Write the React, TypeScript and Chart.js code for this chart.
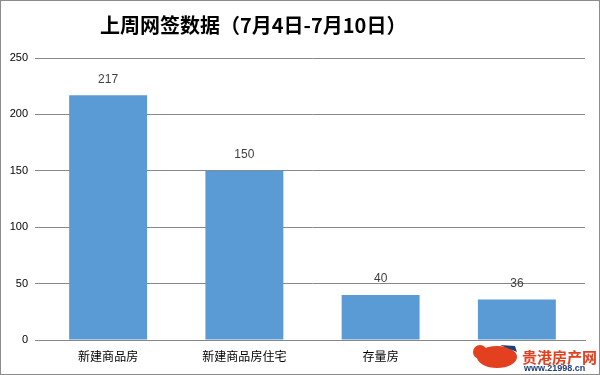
import React, { useEffect, useRef } from "react";
import { Chart, registerables } from "chart.js";

Chart.register(...registerables);

const titleText = "上周网签数据（7月4日-7月10日）";
const categories = ["新建商品房", "新建商品房住宅", "存量房", "存量房住宅"];
const values = [217, 150, 40, 36];
const yMin = 0;
const yMax = 250;
const yStep = 50;

const FONT = "'Liberation Sans', 'Noto Sans CJK SC', sans-serif";
const CJK = "'Noto Sans CJK SC', 'Liberation Sans', sans-serif";

const decorPlugin = {
  id: "decor",
  afterDatasetsDraw(chart: any) {
    const ctx = chart.ctx;
    const meta = chart.getDatasetMeta(0);
    ctx.save();
    ctx.fillStyle = "#404040";
    ctx.font = `12px ${FONT}`;
    ctx.textAlign = "center";
    ctx.textBaseline = "middle";
    meta.data.forEach((bar: any, i: number) => {
      ctx.fillText(String(values[i]), bar.x, bar.y - 16);
    });
    ctx.restore();
  },
  afterDraw(chart: any) {
    const ctx = chart.ctx;
    const w = chart.width;
    const h = chart.height;
    ctx.save();
    // title
    ctx.fillStyle = "#000000";
    ctx.font = `bold 20px ${CJK}`;
    ctx.textAlign = "left";
    ctx.textBaseline = "middle";
    ctx.fillText(titleText, 100, 25);
    // watermark
    ctx.fillStyle = "#ffffff";
    ctx.fillRect(470, 343, 128, 30);
    ctx.fillStyle = "#e2401f";
    ctx.beginPath();
    ctx.ellipse(497, 357, 20, 11, 0, 0, Math.PI * 2);
    ctx.fill();
    ctx.beginPath();
    ctx.arc(480, 352, 7, 0, Math.PI * 2);
    ctx.fill();
    ctx.fillStyle = "#1f3f7a";
    ctx.beginPath();
    ctx.moveTo(500, 345);
    ctx.lineTo(515, 346);
    ctx.lineTo(517, 352);
    ctx.closePath();
    ctx.fill();
    ctx.fillStyle = "#e2401f";
    ctx.font = `bold 15px ${CJK}`;
    ctx.textAlign = "left";
    ctx.fillText("贵港房产网", 522, 357);
    ctx.fillStyle = "#1f3f7a";
    ctx.font = `bold 9px ${FONT}`;
    ctx.fillText("www.21998.cn", 524, 369);
    // border
    ctx.strokeStyle = "#8c8c8c";
    ctx.lineWidth = 1;
    ctx.strokeRect(0.5, 0.5, w - 1, h - 1);
    ctx.restore();
  },
};

export default function App() {
  const ref = useRef<HTMLCanvasElement | null>(null);

  useEffect(() => {
    document.body.style.margin = "0";
    const canvas = ref.current;
    if (!canvas) return;
    const chart = new Chart(canvas, {
      type: "bar",
      data: {
        labels: categories,
        datasets: [
          {
            data: values,
            backgroundColor: "#5b9bd5",
            borderWidth: 0,
            categoryPercentage: 1,
            barPercentage: 0.572,
          },
        ],
      },
      options: {
        responsive: false,
        animation: false,
        devicePixelRatio: 1,
        layout: { padding: { left: 0, right: 15, top: 58, bottom: 0 } },
        plugins: {
          legend: { display: false },
          title: { display: false },
          tooltip: { enabled: false },
        },
        scales: {
          x: {
            grid: { display: false, drawTicks: false },
            border: { display: true, color: "#888888" },
            ticks: {
              color: "#000000",
              font: { family: CJK, size: 12 },
              padding: 9,
              maxRotation: 0,
            },
            afterFit(scale: any) {
              scale.height = 35;
            },
          },
          y: {
            min: yMin,
            max: yMax,
            grid: { color: "#888888", lineWidth: 1, tickLength: 5, drawTicks: true },
            border: { display: false },
            ticks: {
              stepSize: yStep,
              color: "#000000",
              font: { family: FONT, size: 11 },
              padding: 7,
            },
            afterFit(scale: any) {
              scale.width = 40;
            },
          },
        },
      },
      plugins: [decorPlugin],
    });
    return () => chart.destroy();
  }, []);

  return (
    <div style={{ width: 600, height: 375, background: "#ffffff" }}>
      <canvas ref={ref} width={600} height={375} style={{ display: "block" }} />
    </div>
  );
}
